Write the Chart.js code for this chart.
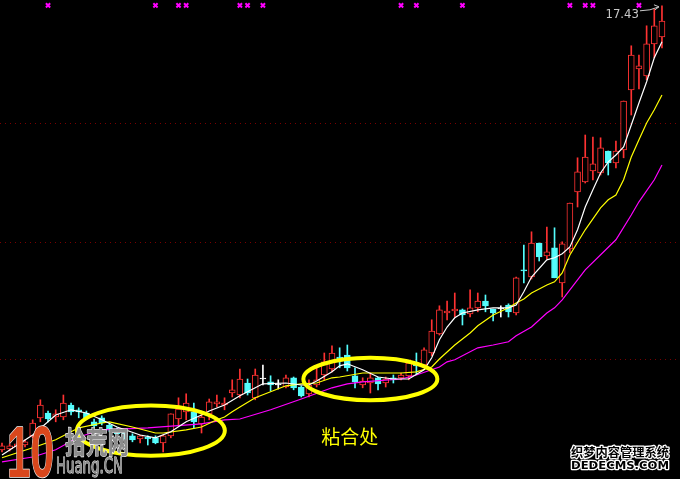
<!DOCTYPE html>
<html lang="zh">
<head>
  <meta charset="UTF-8">
  <title>均线粘合处</title>
  <style>
    body {
      margin: 0;
      background: #000;
    }
    #wrap {
      width: 680px;
      height: 479px;
    }
    canvas {
      display: block;
    }
  </style>
</head>
<body>
  <div id="wrap"><canvas id="kline" width="680" height="479"></canvas></div>

  <script src="https://cdn.jsdelivr.net/npm/chart.js"></script>
  <script>
    // K线数据 (开 / 高 / 低 / 收), 每根一个值
    const opens = [6.33,6.35,6.40,6.45,6.68,7.13,7.25,7.15,7.15,7.45,
      7.33,7.25,7.03,7.13,6.95,6.83,6.75,6.68,6.60,6.65,
      6.63,6.50,6.68,7.10,7.28,7.28,6.98,7.23,7.48,7.45,
      7.75,7.70,8.00,7.63,8.10,8.03,7.95,7.90,8.13,7.90,
      7.73,7.95,8.20,8.35,8.65,8.70,8.18,7.95,8.00,8.13,
      8.00,8.13,8.13,8.18,8.48,8.45,8.75,9.23,9.75,9.80,
      9.83,9.73,9.88,10.05,9.85,9.85,9.95,9.75,10.83,10.65,
      11.50,11.18,11.38,10.50,11.35,12.78,13.03,13.30,13.25,13.80,
      13.50,13.83,15.33,15.85,15.68,16.48,16.65];
    const highs = [6.50,6.48,6.55,6.58,7.08,7.58,7.30,7.33,7.70,7.50,
      7.38,7.30,7.10,7.18,7.00,6.88,6.80,6.73,6.70,6.68,
      6.68,6.70,7.23,7.63,7.73,7.50,7.30,7.60,7.70,7.63,
      8.08,8.35,8.10,8.35,8.45,8.18,8.08,8.20,8.15,7.93,
      8.08,8.40,8.75,8.93,8.88,8.95,8.38,8.13,8.25,8.15,
      8.15,8.20,8.25,8.55,8.75,8.88,9.58,9.93,10.05,10.25,
      9.85,10.33,10.25,10.20,9.85,9.93,9.98,10.65,11.45,11.78,
      11.50,11.90,11.88,11.53,12.50,13.63,14.20,14.15,14.13,13.80,
      14.05,15.05,16.43,16.20,16.93,17.35,17.43];
    const lows = [6.28,6.30,6.35,6.40,6.63,7.03,7.03,7.03,7.08,7.20,
      7.13,7.08,6.88,6.95,6.78,6.68,6.60,6.53,6.50,6.45,
      6.48,6.28,6.63,6.95,7.08,6.88,6.75,7.08,7.40,7.33,
      7.65,7.63,7.70,7.58,7.95,7.80,7.85,7.88,7.83,7.65,
      7.65,7.90,8.08,8.28,8.38,8.30,7.88,7.88,7.75,7.83,
      7.90,8.00,8.08,8.08,8.23,8.38,8.68,9.20,9.58,9.65,
      9.45,9.65,9.78,9.78,9.55,9.65,9.65,9.70,10.50,10.60,
      11.05,11.10,10.63,10.15,11.25,12.40,13.00,13.08,13.20,13.20,
      13.38,13.63,14.70,15.35,15.58,16.13,16.38];
    const closes = [6.43,6.43,6.48,6.53,7.00,7.45,7.10,7.23,7.50,7.28,
      7.28,7.13,6.93,7.00,6.83,6.73,6.65,6.58,6.68,6.60,
      6.50,6.68,7.23,7.35,7.50,7.03,7.15,7.53,7.53,7.50,
      7.83,8.10,7.75,8.20,8.10,7.95,7.95,8.13,7.88,7.68,
      7.95,8.08,8.53,8.75,8.60,8.38,8.03,8.05,8.13,7.98,
      8.10,8.08,8.20,8.50,8.43,8.83,9.30,9.83,9.80,9.85,
      9.70,9.88,10.05,9.93,9.75,9.85,9.78,10.63,10.80,11.50,
      11.15,11.28,10.63,11.48,12.50,13.28,13.65,13.48,13.88,13.50,
      13.80,15.05,16.20,15.93,16.48,16.93,17.05];

    // 均线读数 [K线序号, 价格]
    const ma5 = [[0,6.2],[4,6.7],[7,7.2],[9,7.33],[11,7.25],[13,7.08],[15,6.9],[18,6.7],[20,6.63],
      [22,6.78],[24,7.03],[26,7.2],[27,7.3],[29,7.45],[31,7.68],[33,7.88],[34,7.98],[37,8.0],
      [39,7.95],[40,7.95],[41,8.05],[43,8.28],[44,8.43],[45,8.48],[47,8.33],[49,8.15],[51,8.1],
      [53,8.1],[55,8.33],[56,8.63],[57,9.08],[58,9.4],[59,9.63],[60,9.75],[62,9.83],[64,9.88],
      [66,9.88],[67,9.95],[68,10.28],[69,10.65],[71,11.08],[72,11.13],[73,11.23],[74,11.4],
      [75,11.83],[76,12.4],[77,12.83],[78,13.25],[79,13.53],[80,13.7],[81,13.9],[82,14.45],
      [83,15.0],[84,15.53],[85,16.13],[86,16.53]];
    const ma10 = [[0,6.13],[4,6.38],[7,6.58],[10,6.88],[13,7.0],[14,7.03],[17,6.9],[20,6.75],
      [21,6.75],[24,6.83],[26,6.9],[28,7.08],[29,7.15],[30,7.28],[31,7.4],[33,7.63],[35,7.78],
      [37,7.93],[39,7.98],[41,8.0],[43,8.13],[44,8.15],[47,8.25],[49,8.25],[52,8.25],[54,8.28],
      [56,8.4],[57,8.6],[59,8.95],[61,9.25],[62,9.43],[64,9.7],[66,9.88],[67,10.0],[68,10.1],
      [69,10.25],[71,10.45],[72,10.53],[73,10.75],[74,11.2],[76,11.83],[78,12.38],[79,12.58],
      [80,12.7],[81,13.08],[82,13.65],[83,14.08],[84,14.5],[85,14.83],[86,15.2]];
    const ma30 = [[0,6.03],[4,6.15],[7,6.33],[10,6.65],[13,6.83],[19,6.88],[26,6.98],[29,7.08],
      [31,7.1],[35,7.33],[39,7.6],[43,7.88],[45,7.98],[47,8.03],[52,8.1],[54,8.2],[57,8.4],
      [58,8.53],[59,8.58],[62,8.88],[64,8.95],[66,9.03],[67,9.18],[69,9.4],[71,9.75],[72,9.88],
      [73,10.08],[76,10.83],[80,11.58],[82,12.2],[83,12.53],[85,13.08],[86,13.45]];

    // 顶部信号标记所在的K线
    const signalIdx = [6, 20, 23, 24, 31, 32, 34, 52, 54, 60, 74, 76, 77, 83];
    const signalLevel = 17.44;

    // 横向虚线位置
    const gridValues = [14.5, 11.53, 8.6];

    // 两个粘合区域的椭圆 (中心序号, 中心价, 横半径, 纵半径)
    const rings = [
      { cx: 19.4, cy: 6.81, rx: 9.64, ry: 0.63 },
      { cx: 48.0, cy: 8.10, rx: 8.73, ry: 0.53 }
    ];
    const note = { text: '粘合处', x: 45.3, y: 6.48 };

    const UP = '#ff3232', DOWN = '#54fcfc', FLAT = '#ffffff';
    function tone(i) {
      if (closes[i] > opens[i]) return UP;
      if (closes[i] < opens[i]) return DOWN;
      return FLAT;
    }
    const tones = opens.map((o, i) => tone(i));

    // 画虚线、椭圆、文字和水印
    const overlay = {
      id: 'overlay',
      beforeDatasetsDraw(chart) {
        const { ctx, chartArea, scales: { y } } = chart;
        ctx.save();
        ctx.strokeStyle = '#7a0000';
        ctx.lineWidth = 1;
        ctx.setLineDash([1, 4]);
        gridValues.forEach(v => {
          const py = Math.round(y.getPixelForValue(v)) + 0.5;
          ctx.beginPath();
          ctx.moveTo(chartArea.left, py);
          ctx.lineTo(chartArea.right, py);
          ctx.stroke();
        });
        ctx.restore();
      },
      afterDatasetsDraw(chart) {
        const { ctx, scales: { x, y } } = chart;
        ctx.save();

        // 黄色椭圆
        ctx.strokeStyle = '#ffff00';
        ctx.lineWidth = 4;
        rings.forEach(r => {
          const cx = x.getPixelForValue(r.cx), cy = y.getPixelForValue(r.cy);
          const rx = Math.abs(x.getPixelForValue(r.cx + r.rx) - cx);
          const ry = Math.abs(y.getPixelForValue(r.cy + r.ry) - cy);
          ctx.beginPath();
          ctx.ellipse(cx, cy, rx, ry, 0, 0, Math.PI * 2);
          ctx.stroke();
        });

        // 粘合处
        ctx.fillStyle = '#ffff00';
        ctx.font = '19px "Noto Sans CJK SC"';
        ctx.textAlign = 'center';
        ctx.textBaseline = 'alphabetic';
        ctx.fillText(note.text, x.getPixelForValue(note.x), y.getPixelForValue(note.y));

        // 最高价标注
        let top = 0;
        highs.forEach((h, i) => { if (h > highs[top]) top = i; });
        const hx = x.getPixelForValue(top), hy = y.getPixelForValue(highs[top]);
        ctx.fillStyle = '#c8c8c8';
        ctx.font = '13px "Liberation Sans Narrow", "DejaVu Sans Condensed", sans-serif';
        ctx.textAlign = 'right';
        ctx.fillText(highs[top].toFixed(2), hx - 23, hy + 12);
        ctx.strokeStyle = '#c8c8c8';
        ctx.lineWidth = 1;
        ctx.beginPath();
        ctx.moveTo(hx - 22, hy + 5);
        ctx.lineTo(hx - 12, hy + 4);
        ctx.lineTo(hx - 3, hy + 1);
        ctx.moveTo(hx - 3, hy + 1);
        ctx.lineTo(hx - 8, hy - 1);
        ctx.moveTo(hx - 3, hy + 1);
        ctx.lineTo(hx - 7, hy + 4);
        ctx.stroke();

        // 左下角水印
        drawFit(ctx, '10', 7, 477, 47, 'bold 72px "Liberation Sans"', '#d9471c', '#f0f0f0', 1.5);
        drawFit(ctx, '拾荒网', 65, 453, 64, 'bold 30px "Noto Sans CJK SC"', '#8c8c8c', '#f4f4f4', 1.2);
        drawFit(ctx, 'Huang.CN', 56, 473, 67, '21px "DejaVu Sans"', '#8c8c8c', '#f4f4f4', 1);
        // 右下角水印
        drawFit(ctx, '织梦内容管理系统', 571, 457, 98, 'bold 12px "Noto Sans CJK SC"', '#000', '#fff', 2.5);
        drawFit(ctx, 'DEDECMS.COM', 571, 469, 98, 'bold 11px "DejaVu Sans"', '#000', '#fff', 2.5);

        ctx.restore();
      }
    };

    function drawFit(ctx, text, left, base, width, font, fill, stroke, lw) {
      ctx.save();
      ctx.font = font;
      ctx.textAlign = 'left';
      ctx.textBaseline = 'alphabetic';
      const w = ctx.measureText(text).width;
      ctx.translate(left, base);
      ctx.scale(width / w, 1);
      ctx.lineJoin = 'round';
      ctx.strokeStyle = stroke;
      ctx.lineWidth = lw;
      ctx.strokeText(text, 0, 0);
      ctx.fillStyle = fill;
      ctx.fillText(text, 0, 0);
      ctx.restore();
    }

    function line(points, color) {
      return {
        type: 'line',
        data: points.map(p => ({ x: p[0], y: p[1] })),
        borderColor: color,
        borderWidth: 1.2,
        pointRadius: 0,
        tension: 0,
        order: 0
      };
    }

    new Chart(document.getElementById('kline'), {
      type: 'bar',
      data: {
        datasets: [
          line(ma5, '#ffffff'),
          line(ma10, '#ffff00'),
          line(ma30, '#ff00ff'),
          {
            type: 'line',
            data: signalIdx.map(i => ({ x: i, y: signalLevel })),
            showLine: false,
            pointStyle: 'crossRot',
            pointRadius: 3,
            pointBorderWidth: 2,
            pointBorderColor: '#ff00ff',
            order: 0
          },
          {
            // 实体
            data: opens.map((o, i) => ({ x: i, y: [o, closes[i]] })),
            backgroundColor: tones.map(c => c === UP ? '#000000' : c),
            borderColor: tones,
            borderWidth: 1,
            borderSkipped: false,
            barThickness: 6,
            minBarLength: 1,
            grouped: false,
            order: 1
          },
          {
            // 影线
            data: highs.map((h, i) => ({ x: i, y: [lows[i], h] })),
            backgroundColor: tones,
            borderWidth: 0,
            barThickness: 1,
            grouped: false,
            order: 2
          }
        ]
      },
      options: {
        responsive: false,
        animation: false,
        layout: { padding: 0, autoPadding: false },
        plugins: {
          legend: { display: false },
          tooltip: { enabled: false }
        },
        scales: {
          x: { type: 'linear', min: -0.26, max: 88.35, offset: false, display: false },
          y: { min: 5.6, max: 17.575, display: false }
        }
      },
      plugins: [overlay]
    });
  </script>
</body>
</html>
